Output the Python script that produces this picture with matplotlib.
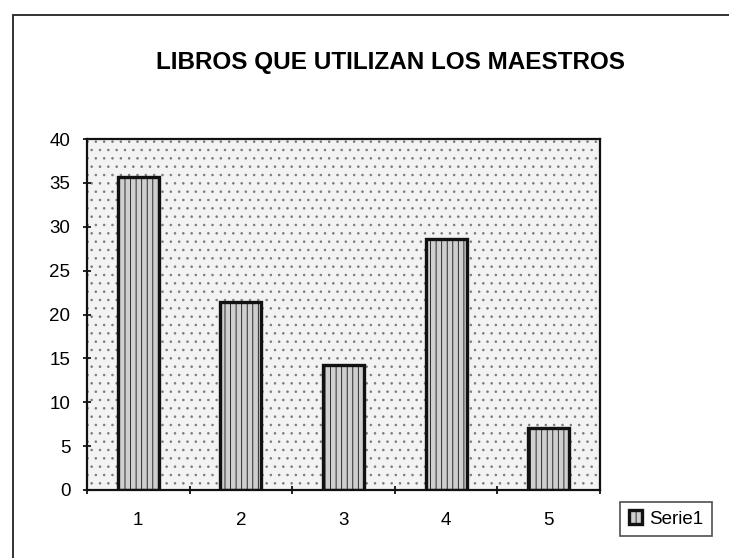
import matplotlib.pyplot as plt
from matplotlib.patches import Rectangle
import numpy as np

plt.rcParams['font.family'] = ['Liberation Sans', 'DejaVu Sans']
plt.rcParams['hatch.linewidth'] = 0.6

categories = ['1', '2', '3', '4', '5']
serie1 = [35.7, 21.4, 14.3, 28.6, 7.1]
title = 'LIBROS QUE UTILIZAN LOS MAESTROS'

fig = plt.figure(figsize=(7.29, 5.58), dpi=100)

# outer chart frame (only left and top edges visible in the scan)
frame = Rectangle((13 / 729, -0.1), 1.2, 1 - 15 / 558 + 0.1, transform=fig.transFigure,
                  fill=False, edgecolor='#222222', linewidth=1.3)
fig.patches.append(frame)

ax = fig.add_axes([87 / 729, 1 - 490 / 558, 513 / 729, 351 / 558])
ax.set_facecolor('#f3f3f3')
# dotted background like the original
bg = Rectangle((0, 0), 1, 1, transform=ax.transAxes, facecolor='none',
               edgecolor='#7a7a7a', hatch='..', linewidth=0, zorder=0.5)
ax.add_patch(bg)

x = np.arange(1, len(serie1) + 1)
ax.bar(x, serie1, width=0.4, facecolor='#cfcfcf', edgecolor='#111111',
       linewidth=2.4, hatch='|||', label='Serie1', zorder=2)

ax.set_xlim(0.5, 5.5)
ax.set_ylim(0, 40)
ax.set_yticks(range(0, 41, 5))
ax.set_xticks(x)
ax.set_xticklabels(categories)
ax.set_xticks(np.arange(0.5, 5.6, 1), minor=True)
ax.tick_params(axis='x', which='major', length=0, pad=16, labelsize=13.5)
ax.tick_params(axis='x', which='minor', length=6, direction='inout', width=1.2)
ax.tick_params(axis='y', length=6, direction='inout', width=1.2, labelsize=13.5, pad=9)
for s in ax.spines.values():
    s.set_linewidth(1.6)
    s.set_color('#111111')

fig.text(390 / 729, 1 - 62 / 558, title, ha='center', va='center',
         fontsize=17.5, fontweight='bold')

leg = fig.legend(loc='center', bbox_to_anchor=(666 / 729, 1 - 519 / 558),
                 fontsize=13.5, frameon=True, fancybox=False, edgecolor='#222222',
                 handlelength=0.7, handleheight=0.7, handletextpad=0.4,
                 borderpad=0.45)
leg.get_frame().set_linewidth(1.2)

fig.savefig('out.png', dpi=100)
